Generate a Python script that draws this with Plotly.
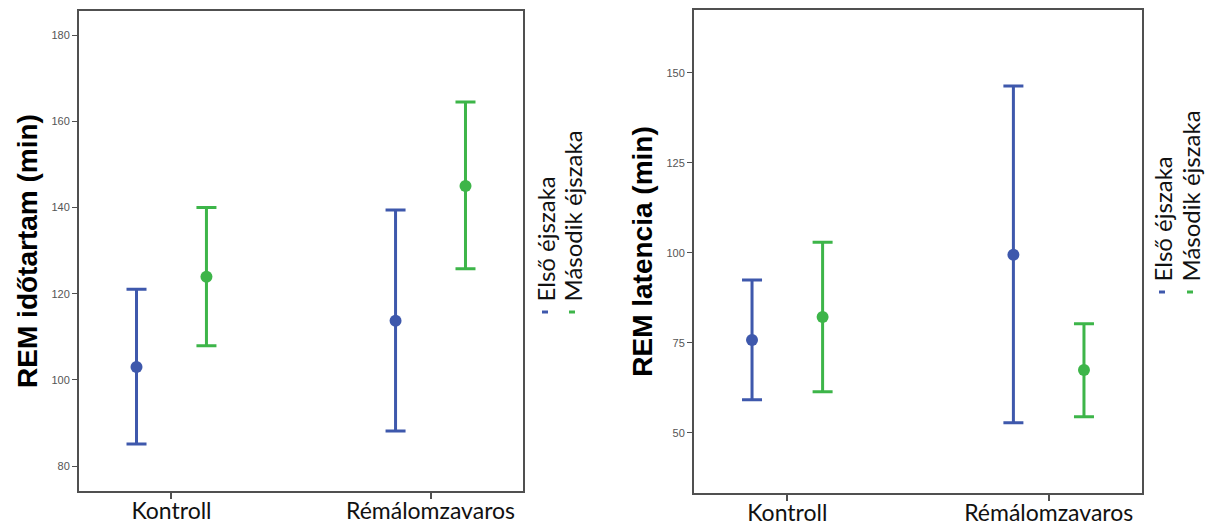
import plotly.graph_objects as go

categories = ["Kontroll", "Rémálomzavaros"]
series_names = ["Első éjszaka", "Második éjszaka"]

# Left panel: REM időtartam (min)
dur_first_mean = [103.0, 113.7]
dur_first_low = [85.1, 88.1]
dur_first_high = [121.0, 139.4]
dur_second_mean = [123.9, 145.0]
dur_second_low = [107.9, 125.8]
dur_second_high = [140.0, 164.5]

# Right panel: REM latencia (min)
lat_first_mean = [75.8, 99.5]
lat_first_low = [59.2, 52.8]
lat_first_high = [92.5, 146.4]
lat_second_mean = [82.2, 67.5]
lat_second_low = [61.4, 54.5]
lat_second_high = [103.0, 80.3]

dur_ticks = [80, 100, 120, 140, 160, 180]
lat_ticks = [50, 75, 100, 125, 150]

BLUE = "#3E58AC"
GREEN = "#3DB549"
W, H = 1206, 527


def err_trace(mean, low, high, color, name, xa, ya):
    return go.Scatter(
        x=categories, y=mean, name=name, mode="markers",
        marker=dict(color=color, size=12),
        error_y=dict(type="data", symmetric=False,
                     array=[h - m for h, m in zip(high, mean)],
                     arrayminus=[m - l for m, l in zip(mean, low)],
                     color=color, thickness=3, width=10),
        xaxis=xa, yaxis=ya, showlegend=False, hoverinfo="skip",
    )


fig = go.Figure()
fig.add_trace(err_trace(dur_first_mean, dur_first_low, dur_first_high, BLUE, series_names[0], "x", "y"))
fig.add_trace(err_trace(dur_second_mean, dur_second_low, dur_second_high, GREEN, series_names[1], "x", "y"))
fig.add_trace(err_trace(lat_first_mean, lat_first_low, lat_first_high, BLUE, series_names[0], "x2", "y2"))
fig.add_trace(err_trace(lat_second_mean, lat_second_low, lat_second_high, GREEN, series_names[1], "x2", "y2"))

LINE = "#505050"
xcommon = dict(type="category", range=[-0.357, 1.357], showline=True, mirror=True,
               linecolor=LINE, linewidth=2, ticks="outside", ticklen=6, tickwidth=1.5,
               tickcolor=LINE, showgrid=False, zeroline=False, automargin=False,
               ticklabelstandoff=-8,
               tickfont=dict(family="Lato", size=23, color="#111111"))
ycommon = dict(showline=True, mirror=True, linecolor=LINE, linewidth=2, ticks="outside",
               ticklen=5, tickwidth=1, tickcolor=LINE, showgrid=False, zeroline=False,
               automargin=False, tickfont=dict(family="Arial", size=11, color="#555555"))

fig.update_layout(
    width=W, height=H, margin=dict(l=0, r=0, t=0, b=0),
    paper_bgcolor="white", plot_bgcolor="white",
    scattermode="group", scattergap=0.46,
    xaxis=dict(**xcommon, domain=[79 / W, 523 / W], anchor="y"),
    yaxis=dict(**ycommon, domain=[1 - 491 / H, 1 - 11 / H], anchor="x",
               range=[74.2, 185.6], tickvals=dur_ticks,
               title=dict(text="<b>REM időtartam (min)</b>", standoff=6,
                          font=dict(family="Arial", size=28, color="#000000"))),
    xaxis2=dict(**xcommon, domain=[694 / W, 1142 / W], anchor="y2"),
    yaxis2=dict(**ycommon, domain=[1 - 493 / H, 1 - 10 / H], anchor="x2",
                range=[33.3, 167.5], tickvals=lat_ticks,
                title=dict(text="<b>REM latencia (min)</b>", standoff=6,
                           font=dict(family="Arial", size=28, color="#000000"))),
)

# Vertical legends (text rotated, as in the original)
legend_pos = [(545, 572, 304), (1162, 1190, 284)]
for xa, xb, yb in legend_pos:
    for xc, name, color in [(xa, series_names[0], BLUE), (xb, series_names[1], GREEN)]:
        fig.add_annotation(x=xc / W, y=1 - yb / H, xref="paper", yref="paper",
                           text=name, textangle=-90, showarrow=False,
                           xanchor="center", yanchor="bottom",
                           font=dict(family="Lato", size=24, color="#111111"))
        fig.add_shape(type="line", xref="paper", yref="paper",
                      x0=(xc - 3) / W, x1=(xc + 3) / W,
                      y0=1 - (yb + 8) / H, y1=1 - (yb + 8) / H,
                      line=dict(color=color, width=3))

fig.write_html("out.html")
